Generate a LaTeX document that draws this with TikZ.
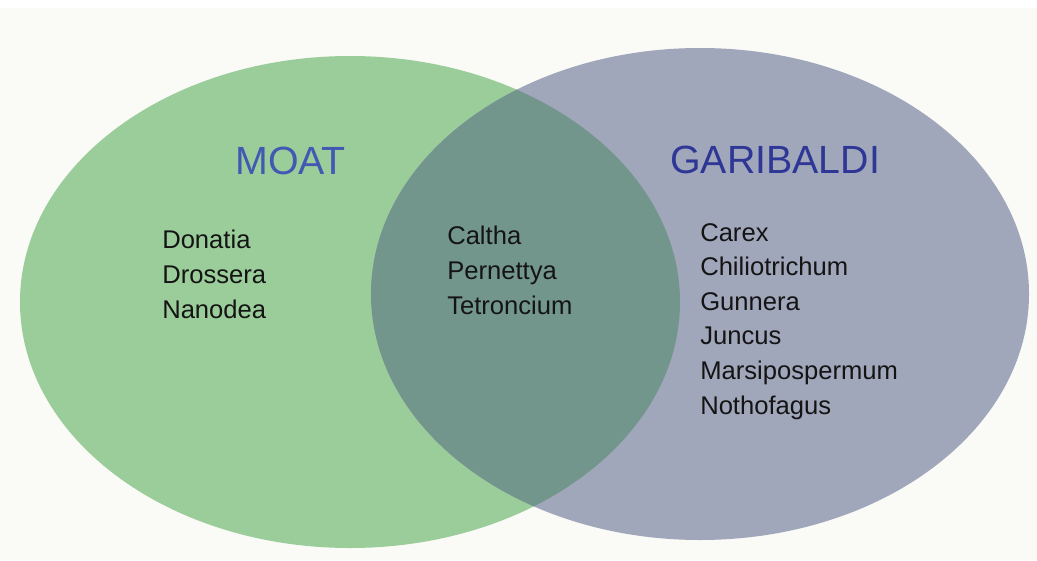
\documentclass[tikz,border=0pt]{standalone}
\usepackage{fontspec}
\setmainfont{Liberation Sans}

\definecolor{paper}{RGB}{250,250,246}
\definecolor{moatgreen}{RGB}{155,205,155}
\definecolor{garigrey}{RGB}{161,167,187}
\definecolor{sharedteal}{RGB}{115,150,140}
\definecolor{moatblue}{RGB}{66,88,178}
\definecolor{gariblue}{RGB}{46,54,150}

\tikzset{
	settitle/.style={anchor=base west, inner sep=0pt, font=\fontsize{29.5}{35}\selectfont},
	genuslist/.style={anchor=base west, inner sep=0pt, align=left, text=black!92, font=\fontsize{19.2}{25.9}\selectfont},
}

\begin{document}
\begin{tikzpicture}[x=0.75pt,y=0.75pt,yscale=-1,xscale=1]
	\useasboundingbox (0,0) rectangle (1037,560);
	%background
	\fill [white] (0,0) rectangle (1037,560);
	\fill [paper] (0,8) rectangle (1037,560);

	%Ellipse MOAT
	\fill [moatgreen] (350,302) circle [x radius=330, y radius=246];
	%Ellipse GARIBALDI
	\fill [garigrey] (700,294) circle [x radius=329, y radius=246];
	%Overlap
	\begin{scope}
		\clip (350,302) circle [x radius=330, y radius=246];
		\fill [sharedteal] (700,294) circle [x radius=329, y radius=246];
	\end{scope}

	% Text Node
	\node (moat) [settitle, text=moatblue] at (235,174) {MOAT};
	% Text Node
	\node (garibaldi) [settitle, text=gariblue] at (670,173) {GARIBALDI};
	% Text Node (base = last line)
	\node (moatonly) [genuslist] at (162,318) {Donatia\\Drossera\\Nanodea};
	% Text Node
	\node (shared) [genuslist] at (447,314) {Caltha\\Pernettya\\Tetroncium};
	% Text Node
	\node (garionly) [genuslist] at (700,414) {Carex\\Chiliotrichum\\Gunnera\\Juncus\\Marsipospermum\\Nothofagus};
\end{tikzpicture}
\end{document}
